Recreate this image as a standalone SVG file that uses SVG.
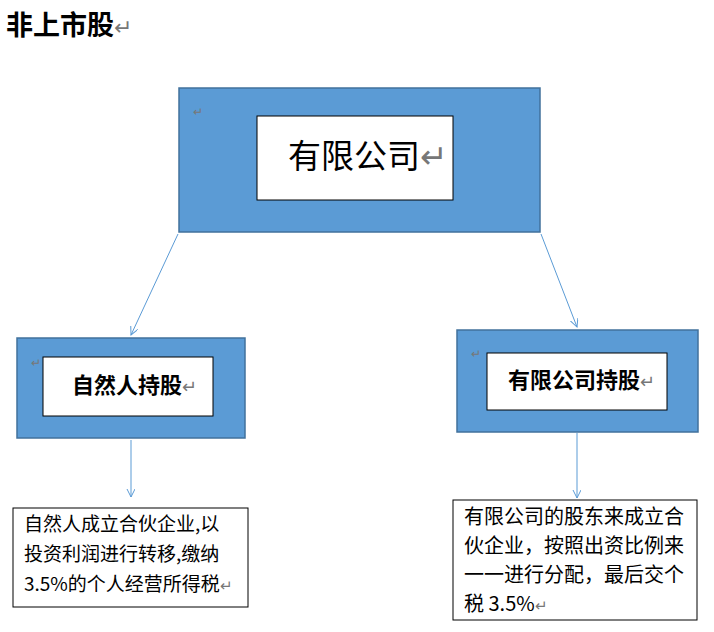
<svg xmlns="http://www.w3.org/2000/svg" width="714" height="632" viewBox="0 0 714 632">
<defs>
<style>
.blue{fill:#5B9BD5;stroke:#41719C;stroke-width:1.5}
.white{fill:#fff;stroke:#000;stroke-width:1}
.tb{fill:#fff;stroke:#000;stroke-width:1}
.t{font-family:"Noto Sans CJK SC","Liberation Sans",sans-serif;fill:#000}
.mk{font-family:"Liberation Sans",sans-serif;fill:#777}
.ln{stroke:#5B9BD5;stroke-width:1;fill:none;marker-end:url(#a)}
</style>
<marker id="a" markerWidth="10" markerHeight="10" refX="8" refY="4" orient="auto" markerUnits="userSpaceOnUse">
<path d="M0,0 L8,4 L0,8" fill="none" stroke="#5B9BD5" stroke-width="1"/>
</marker>
</defs>
<rect width="714" height="632" fill="#fff"/>
<g id="title"><text class="t" x="6" y="35" font-size="27" font-weight="bold">非上市股<tspan class="mk" font-weight="normal" font-size="22">↵</tspan></text></g>
<g id="company">
<rect class="blue" x="179" y="88" width="361" height="144"/>
<text class="mk" x="193" y="116" font-size="12">↵</text>
<rect class="white" x="257" y="116" width="196" height="84"/>
<text class="t" x="288" y="168" font-size="33">有限公司<tspan class="mk">↵</tspan></text>
</g>
<g id="person">
<rect class="blue" x="17" y="338" width="228" height="100"/>
<text class="mk" x="31" y="367" font-size="12">↵</text>
<rect class="white" x="43" y="357" width="170" height="59"/>
<text class="t" x="72" y="393" font-size="22" font-weight="bold">自然人持股<tspan class="mk" font-weight="normal" font-size="18">↵</tspan></text>
</g>
<g id="corp">
<rect class="blue" x="457" y="330" width="241" height="102"/>
<text class="mk" x="471" y="358" font-size="12">↵</text>
<rect class="white" x="487" y="353" width="180" height="57"/>
<text class="t" x="508" y="388" font-size="22" font-weight="bold">有限公司持股<tspan class="mk" font-weight="normal" font-size="18">↵</tspan></text>
</g>
<g id="note1">
<rect class="tb" x="13" y="508" width="235" height="99"/>
<text class="t" font-size="19"><tspan x="24" y="531">自然人成立合伙企业,以</tspan><tspan x="24" y="561">投资利润进行转移,缴纳</tspan><tspan x="24" y="591">3.5%的个人经营所得税<tspan class="mk" font-size="15">↵</tspan></tspan></text>
</g>
<g id="note2">
<rect class="tb" x="453" y="500" width="244" height="120"/>
<text class="t" font-size="20"><tspan x="464" y="524">有限公司的股东来成立合</tspan><tspan x="464" y="553">伙企业，按照出资比例来</tspan><tspan x="464" y="582">一一进行分配，最后交个</tspan><tspan x="464" y="611">税 3.5%<tspan class="mk" font-size="15">↵</tspan></tspan></text>
</g>
<g id="connectors">
<line class="ln" x1="178" y1="234" x2="131" y2="335"/>
<line class="ln" x1="541" y1="234" x2="577" y2="327"/>
<line class="ln" x1="131" y1="440" x2="131" y2="497"/>
<line class="ln" x1="577" y1="433" x2="577" y2="498"/>
</g>
</svg>
